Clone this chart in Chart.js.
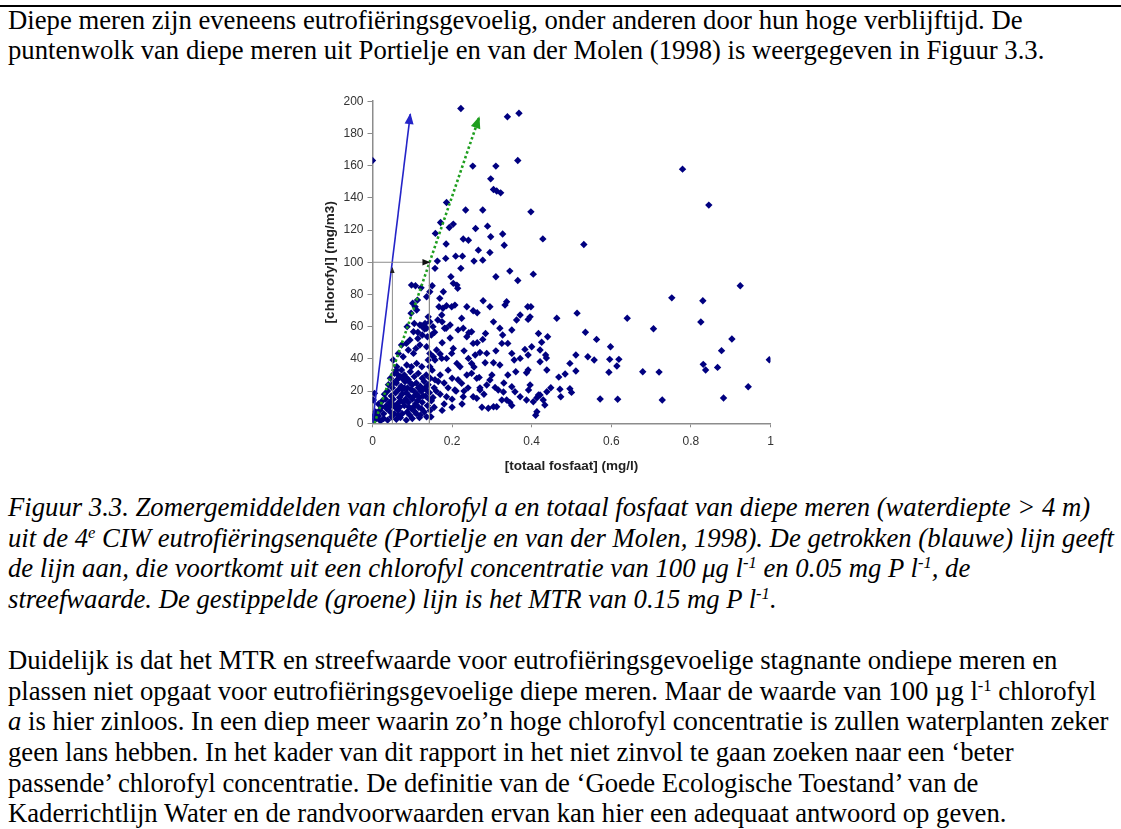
<!DOCTYPE html>
<html>
<head>
<meta charset="utf-8">
<script src="https://cdn.jsdelivr.net/npm/chart.js@4/dist/chart.umd.min.js"></script>
<style>
  html, body { margin: 0; padding: 0; background: #fff; }
  body { width: 1121px; height: 829px; position: relative; overflow: hidden; }
  .rule { position: absolute; left: 0; top: 5px; width: 1121px; height: 2px; background: #000; }
  .ln { position: absolute; left: 8px; white-space: nowrap; font-family: "Liberation Serif", "Times New Roman", serif;
        font-size: 26.7px; line-height: 30.7px; color: #000; }
  .cap { font-style: italic; }
  sup { font-size: 0.62em; line-height: 0; vertical-align: 0.55em; }
  #wrap { position: absolute; left: 310px; top: 90px; width: 480px; height: 395px; }
</style>
</head>
<body>
<div class="rule"></div>
<div class="ln" style="top:5px">Diepe meren zijn eveneens eutrofiëringsgevoelig, onder anderen door hun hoge verblijftijd. De</div>
<div class="ln" style="top:35px">puntenwolk van diepe meren uit Portielje en van der Molen (1998) is weergegeven in Figuur 3.3.</div>

<div id="wrap"><canvas id="chart" width="480" height="395"></canvas></div>

<div class="ln cap" style="top:492px">Figuur 3.3. Zomergemiddelden van chlorofyl a en totaal fosfaat van diepe meren (waterdiepte &gt; 4 m)</div>
<div class="ln cap" style="top:523px">uit de 4<sup>e</sup> CIW eutrofiëringsenquête (Portielje en van der Molen, 1998). De getrokken (blauwe) lijn geeft</div>
<div class="ln cap" style="top:553px">de lijn aan, die voortkomt uit een chlorofyl concentratie van 100 μg l<sup>-1</sup> en 0.05 mg P l<sup>-1</sup>, de</div>
<div class="ln cap" style="top:584px">streefwaarde. De gestippelde (groene) lijn is het MTR van 0.15 mg P l<sup>-1</sup>.</div>

<div class="ln" style="top:645px">Duidelijk is dat het MTR en streefwaarde voor eutrofiëringsgevoelige stagnante ondiepe meren en</div>
<div class="ln" style="top:676px">plassen niet opgaat voor eutrofiëringsgevoelige diepe meren. Maar de waarde van 100 µg l<sup>-1</sup> chlorofyl</div>
<div class="ln" style="top:706px"><i>a</i> is hier zinloos. In een diep meer waarin zo’n hoge chlorofyl concentratie is zullen waterplanten zeker</div>
<div class="ln" style="top:737px">geen lans hebben. In het kader van dit rapport in het niet zinvol te gaan zoeken naar een ‘beter</div>
<div class="ln" style="top:768px">passende’ chlorofyl concentratie. De definitie van de ‘Goede Ecologische Toestand’ van de</div>
<div class="ln" style="top:798px">Kaderrichtlijn Water en de randvoorwaarden ervan kan hier een adequaat antwoord op geven.</div>

<script>
// [totaal fosfaat (mg/l), chlorofyl (mg/m3)] per meer
const bovenRechts = [
  [0.222,195.5],[0.339,190.3],[0.368,192.5],[0.000,163.2],[0.252,159.7],[0.310,159.7],[0.365,163.2],
  [0.297,151.8],[0.304,145.2],[0.312,144.2],[0.322,143.1],[0.186,137.1],[0.234,132.4],[0.277,132.4],
  [0.398,131.3],[0.779,157.8],[0.845,135.5],[0.428,114.5],[0.531,111.0],[0.924,85.4],[0.752,77.9],
  [0.830,76.1],[0.463,65.2],[0.514,68.4],[0.640,65.2],[0.825,62.9],[0.706,58.7]
];
const rechtsLaag = [
  [0.440,53.7],[0.425,50.3],[0.535,56.5],[0.563,52.1],[0.598,47.5],[0.903,52.3],[0.877,45.1],
  [0.435,42.4],[0.437,40.5],[0.511,42.4],[0.541,41.3],[0.557,39.3],[0.496,37.2],[0.596,39.7],
  [0.619,39.7],[0.614,35.6],[0.831,36.6],[0.837,33.1],[0.867,34.7],[0.997,39.5],[0.438,33.1],
  [0.511,32.5],[0.484,30.6],[0.468,28.7],[0.594,31.7],[0.679,32.0],[0.720,31.8],[0.448,22.1],
  [0.471,21.1],[0.496,21.5],[0.500,19.2],[0.473,16.5],[0.433,11.4],[0.572,15.1],[0.616,14.9],
  [0.728,14.5],[0.882,15.7],[0.944,22.7],[0.421,17.6],[0.421,45.5],[0.421,38.2]
];
const midden = [
  [0.171,124.7],[0.193,121.6],[0.203,123.7],[0.158,117.9],[0.259,121.0],[0.289,122.4],[0.297,115.8],
  [0.327,117.5],[0.331,110.6],[0.228,114.4],[0.241,113.7],[0.185,111.3],[0.266,107.5],[0.295,106.1],
  [0.209,103.8],[0.226,103.8],[0.163,100.7],[0.255,100.7],[0.277,101.3],[0.184,102.4],[0.157,96.2],
  [0.222,96.2],[0.345,94.5],[0.404,92.6],[0.310,91.0],[0.197,91.0],[0.365,88.7],[0.108,85.4],
  [0.122,84.1],[0.150,85.4],[0.203,86.9],[0.212,85.8],[0.214,83.8],[0.178,81.7],[0.278,76.1],
  [0.136,78.6],[0.101,74.5],[0.107,72.4],[0.144,81.7],[0.186,73.0],[0.199,72.4],[0.207,73.4],
  [0.237,72.4],[0.333,73.4],[0.337,75.5],[0.390,72.4],[0.398,72.4],[0.295,72.4],[0.167,72.4],
  [0.169,77.6],[0.177,71.4],[0.098,85.8],[0.113,76.5]
];
const middenLaag = [
  [0.111,70.3],[0.097,68.3],[0.140,66.1],[0.144,63.0],[0.105,62.0],[0.119,61.0],[0.132,62.0],
  [0.136,59.0],[0.123,60.6],[0.131,58.5],[0.114,56.5],[0.125,54.8],[0.138,53.7],[0.148,54.8],
  [0.156,56.5],[0.152,60.0],[0.114,52.7],[0.087,60.0],[0.103,56.8],[0.094,51.7],[0.175,63.0],
  [0.181,59.0],[0.253,69.9],[0.263,68.6],[0.174,67.2],[0.164,64.1],[0.195,61.0],[0.185,59.0],
  [0.224,65.2],[0.228,59.0],[0.242,56.2],[0.253,49.6],[0.263,50.0],[0.277,52.1],[0.284,55.8],
  [0.249,56.8],[0.237,53.7],[0.304,63.0],[0.320,59.0],[0.327,54.8],[0.325,49.6],[0.340,49.6],
  [0.350,57.9],[0.362,64.1],[0.371,67.2],[0.391,64.5],[0.396,66.1],[0.417,55.8],[0.383,45.9],
  [0.391,42.4],[0.400,47.5],[0.350,43.4],[0.356,39.3],[0.371,40.3],[0.287,43.4],[0.258,42.4],
  [0.241,40.3],[0.283,37.6],[0.304,37.6],[0.320,36.2],[0.391,33.1],[0.387,31.4],[0.203,46.5],
  [0.199,43.4],[0.212,37.2],[0.220,35.1],[0.186,40.3],[0.161,45.5],[0.174,40.3],[0.157,39.3],
  [0.144,35.1],[0.073,48.6],[0.065,43.4],[0.077,41.3],[0.090,45.5],[0.103,43.4],[0.109,46.5],
  [0.119,48.6],[0.136,47.5],[0.144,43.4],[0.140,39.3],[0.153,41.3],[0.052,39.3],[0.061,35.1],
  [0.073,33.1],[0.086,36.2],[0.098,35.1],[0.111,37.2],[0.124,35.1],[0.085,49.6],[0.175,50.0],
  [0.195,53.0],[0.215,58.0],[0.170,43.0],[0.230,45.0],[0.270,44.0],[0.310,45.0],[0.255,35.0]
];
const laag = [
  [0.295,26.9],[0.287,23.8],[0.308,22.3],[0.316,20.7],[0.329,19.4],[0.325,14.5],[0.237,30.0],
  [0.249,31.0],[0.262,27.9],[0.268,28.5],[0.224,24.8],[0.253,16.5],[0.262,15.5],[0.304,10.3],
  [0.350,22.7],[0.358,19.6],[0.371,16.5],[0.337,14.5],[0.392,20.7],[0.396,23.8],[0.387,14.5],
  [0.404,13.4],[0.413,15.9],[0.417,17.6],[0.429,14.5],[0.438,19.6],[0.291,9.3],[0.312,10.3],
  [0.413,7.2],[0.345,13.0],[0.350,11.0],[0.410,5.0],[0.170,30.0],[0.180,25.0],[0.190,22.0],
  [0.200,28.0],[0.210,20.0],[0.200,15.0],[0.180,12.0],[0.170,18.0],[0.215,27.0],[0.230,20.0],
  [0.240,22.0],[0.190,33.0],[0.165,26.0],[0.160,20.0],[0.175,8.0],[0.200,10.0],[0.225,12.0],
  [0.270,22.0],[0.280,18.0],[0.275,10.0],[0.300,30.0],[0.340,30.0],[0.360,32.0],[0.330,25.0],
  [0.249,37.2],[0.270,20.7],[0.228,16.5],[0.207,20.7],[0.186,16.5]
];
const kern = [
  [0.005,18.6],[0.002,14.5],[0.000,4.0],[0.045,28],[0.055,31],[0.070,29],[0.080,30],[0.095,32],
  [0.105,29],[0.115,31],[0.125,28],[0.135,30],[0.150,33],[0.090,27],[0.062,27],[0.040,24],
  [0.050,22],[0.060,25],[0.072,23],[0.082,26],[0.088,22],[0.100,24],[0.110,25],[0.120,23],
  [0.130,26],[0.140,24],[0.155,22],[0.078,27],[0.097,21],[0.030,18],[0.038,20],[0.047,17],
  [0.058,19],[0.066,21],[0.074,18],[0.085,19],[0.092,17],[0.104,20],[0.112,18],[0.122,20],
  [0.133,17],[0.143,19],[0.152,16],[0.068,16],[0.118,16],[0.015,12],[0.025,14],[0.035,11],
  [0.043,13],[0.052,15],[0.062,12],[0.070,14],[0.080,11],[0.090,13],[0.100,15],[0.108,12],
  [0.125,13],[0.138,11],[0.148,14],[0.057,10],[0.116,10],[0.008,7],[0.018,8],[0.028,6],
  [0.036,9],[0.045,7],[0.055,6],[0.065,8],[0.075,6],[0.087,7],[0.098,9],[0.110,6],[0.130,7],
  [0.145,8],[0.120,5],[0.003,2],[0.010,3],[0.020,1.5],[0.028,3],[0.038,2],[0.048,4],[0.060,2.5],
  [0.070,3.5],[0.085,2],[0.100,3],[0.005,5],[0.015,4.5],[0.136,4],[0.118,3.5],[0.095,25],
  [0.105,17],[0.127,21],[0.075,21],[0.083,15],[0.135,21],[0.145,28],[0.060,33],[0.115,22],
  [0.068,10],[0.092,10],[0.155,10],[0.033,15],[0.042,10],[0.053,25],[0.064,30],[0.077,13],
  [0.086,28],[0.094,5],[0.103,10],[0.113,14],[0.123,9],[0.132,22],[0.142,15],[0.147,4],
  [0.023,10],[0.050,12],[0.080,22],[0.107,7],[0.127,17],[0.157,27],[0.064,5]
];

// hulplijnen
const blauweLijn = [[0, 0], [0.095, 192]];          // streefwaarde
const groeneLijn = [[0.005, 0], [0.268, 190]];      // MTR
const pijl100 = [[0, 100], [0.143, 100]];
const lood005 = [[0.05, 0], [0.05, 96.5]];
const lood015 = [[0.143, 100], [0.143, 0]];

const xTicks = [0, 0.2, 0.4, 0.6, 0.8, 1];
const yTicks = [0, 20, 40, 60, 80, 100, 120, 140, 160, 180, 200];

const toXY = arr => arr.map(p => ({ x: p[0], y: p[1] }));
const punten = [].concat(bovenRechts, rechtsLaag, midden, middenLaag, laag, kern);

// pijlpunt aan het eind van een lijn
const arrowHeads = {
  id: 'arrowHeads',
  afterDatasetsDraw(chart) {
    const ctx = chart.ctx;
    chart.data.datasets.forEach((ds, i) => {
      if (!ds.arrowColor) return;
      const pts = chart.getDatasetMeta(i).data;
      const a = pts[pts.length - 2], b = pts[pts.length - 1];
      const ang = Math.atan2(b.y - a.y, b.x - a.x);
      const len = ds.arrowSize, half = len * 0.45;
      ctx.save();
      ctx.translate(b.x, b.y);
      ctx.rotate(ang);
      ctx.beginPath();
      ctx.moveTo(1, 0);
      ctx.lineTo(-len, -half);
      ctx.lineTo(-len, half);
      ctx.closePath();
      ctx.fillStyle = ds.arrowColor;
      ctx.fill();
      ctx.restore();
    });
  }
};

const lineDs = (data, color, width, extra) => Object.assign({
  type: 'line', data: toXY(data), borderColor: color, borderWidth: width,
  pointRadius: 0, fill: false, order: 0, tension: 0
}, extra);

new Chart(document.getElementById('chart'), {
  type: 'scatter',
  data: {
    datasets: [
      lineDs(pijl100, '#8c8c8c', 1, { arrowColor: '#111', arrowSize: 7 }),
      lineDs(lood005, '#8c8c8c', 1, { arrowColor: '#222', arrowSize: 5 }),
      lineDs(lood015, '#8c8c8c', 1),
      lineDs(blauweLijn, '#2424c8', 1.6, { arrowColor: '#2424c8', arrowSize: 10 }),
      lineDs(groeneLijn, '#1e9e1e', 2.6, { borderDash: [2.5, 2.5], arrowColor: '#1e9e1e', arrowSize: 11 }),
      {
        data: toXY(punten),
        pointStyle: 'rectRot',
        pointRadius: 3.7,
        backgroundColor: '#000080',
        borderColor: '#000080',
        borderWidth: 0,
        order: 1
      }
    ]
  },
  options: {
    responsive: false,
    animation: false,
    events: [],
    layout: { padding: { left: 12.5, right: 19.5, top: 11, bottom: 10.7 } },
    plugins: { legend: { display: false }, tooltip: { enabled: false } },
    scales: {
      x: {
        type: 'linear', min: 0, max: 1,
        afterBuildTicks: s => { s.ticks = xTicks.map(v => ({ value: v })); },
        afterFit: s => { s.height = 51; },
        grid: { drawOnChartArea: false, drawTicks: true, tickLength: 4, color: '#8c8c8c' },
        border: { color: '#8c8c8c', width: 1.5 },
        ticks: { color: '#333', padding: 7, font: { family: 'Liberation Sans, Arial', size: 12 },
                 maxRotation: 0, callback: v => String(v) },
        title: { display: true, text: '[totaal fosfaat] (mg/l)', color: '#222', padding: 0,
                 font: { family: 'Liberation Sans, Arial', size: 13.5, weight: 'bold' } }
      },
      y: {
        type: 'linear', min: 0, max: 200,
        afterBuildTicks: s => { s.ticks = yTicks.map(v => ({ value: v })); },
        afterFit: s => { s.width = 50; },
        grid: { drawOnChartArea: false, drawTicks: true, tickLength: 5, color: '#8c8c8c' },
        border: { color: '#8c8c8c', width: 1.5 },
        ticks: { color: '#333', padding: 4, font: { family: 'Liberation Sans, Arial', size: 12 } },
        title: { display: true, text: '[chlorofyl] (mg/m3)', color: '#222', padding: 0,
                 font: { family: 'Liberation Sans, Arial', size: 13.5, weight: 'bold' } }
      }
    }
  },
  plugins: [arrowHeads]
});
</script>
</body>
</html>
